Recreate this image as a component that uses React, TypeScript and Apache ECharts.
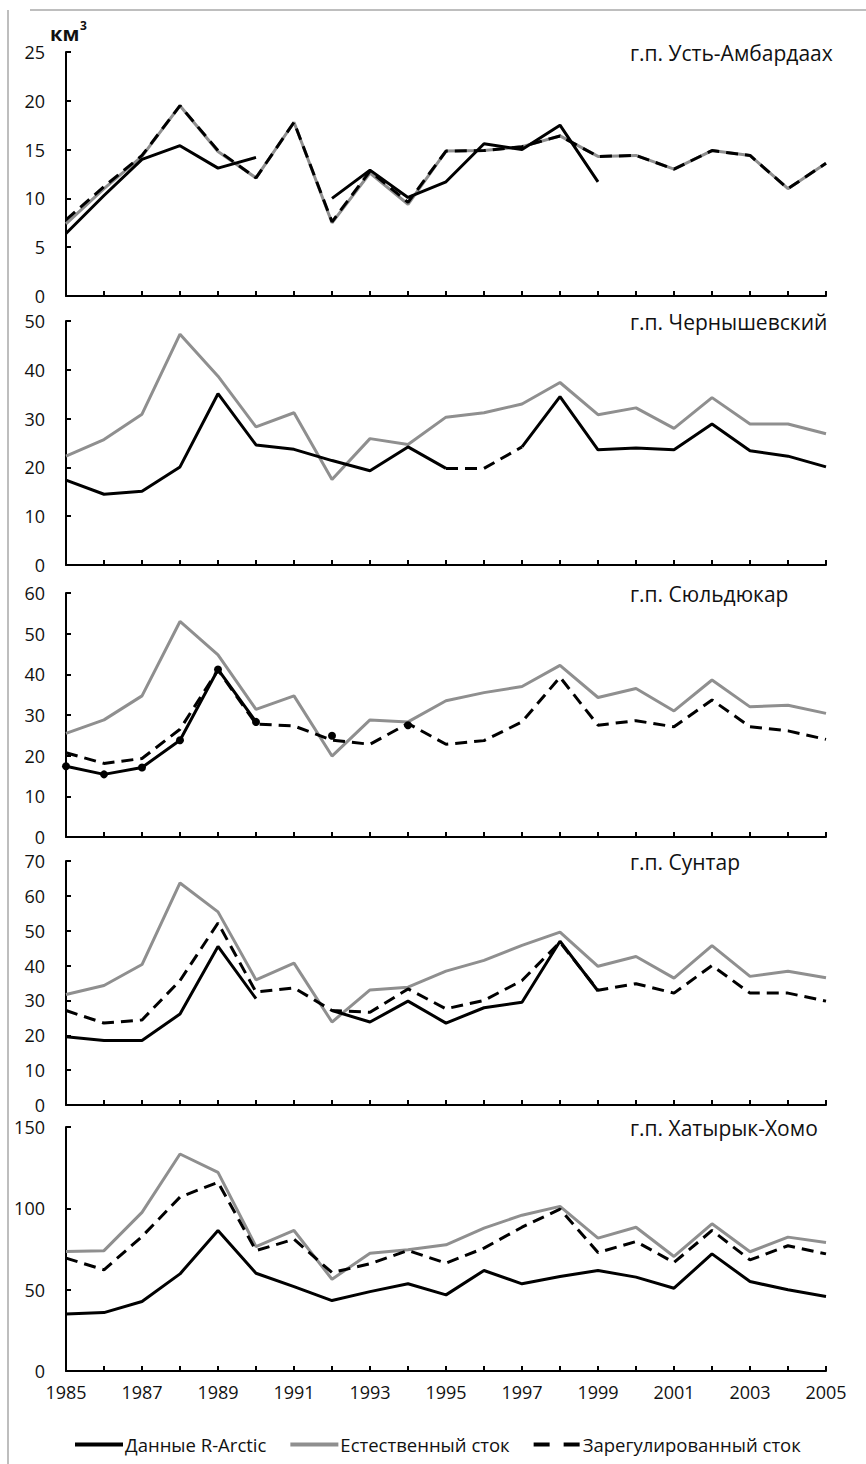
import React, { useEffect, useRef } from "react";
import * as echarts from "echarts";

const years = ["1985","1986","1987","1988","1989","1990","1991","1992","1993","1994","1995","1996","1997","1998","1999","2000","2001","2002","2003","2004","2005"];

const seriesNames = ["Данные R-Arctic", "Естественный сток", "Зарегулированный сток"];
const stationNames = ["г.п. Усть-Амбардаах", "г.п. Чернышевский", "г.п. Сюльдюкар", "г.п. Сунтар", "г.п. Хатырык-Хомо"];
const yMax = [25, 50, 60, 70, 150];
const yInterval = [5, 10, 10, 10, 50];
const unitLabel = "км";
const unitSup = "3";

// г.п. Усть-Амбардаах
const rArctic1 = [6.4, 10.3, 14.0, 15.4, 13.1, 14.2, null, 10.0, 12.9, 10.1, 11.7, 15.6, 15.0, 17.5, 11.7, null, null, null, null, null, null];
const natural1 = [7.4, 11.0, 14.3, 19.5, 14.8, 12.1, 17.8, 7.5, 12.6, 9.4, 14.85, 14.9, 15.3, 16.4, 14.3, 14.4, 13.0, 14.9, 14.4, 11.0, 13.6];
const regulated1 = [7.8, 11.2, 14.4, 19.5, 14.9, 12.1, 17.8, 7.6, 12.8, 9.6, 14.85, 14.9, 15.3, 16.4, 14.3, 14.4, 13.0, 14.9, 14.4, 11.0, 13.6];

// г.п. Чернышевский
const rArctic2 = [17.4, 14.5, 15.1, 20.1, 35.1, 24.6, 23.7, 21.4, 19.3, 24.2, 19.8, null, 24.2, 34.5, 23.6, 24.0, 23.6, 28.9, 23.4, 22.3, 20.1];
const natural2 = [22.3, 25.7, 30.9, 47.3, 38.7, 28.3, 31.2, 17.5, 25.9, 24.7, 30.3, 31.2, 33.0, 37.4, 30.8, 32.2, 28.0, 34.3, 28.9, 28.9, 26.9];
const regulated2 = [null, null, null, null, null, null, null, null, null, null, 19.8, 19.8, 24.2, null, null, null, null, null, null, null, null];

// г.п. Сюльдюкар
const rArctic3 = [17.4, 15.4, 17.1, 23.8, 41.2, 28.3, null, 24.9, null, 27.5, null, null, null, null, null, null, null, null, null, null, null];
const natural3 = [25.5, 28.8, 34.7, 53.0, 44.8, 31.4, 34.7, 19.9, 28.8, 28.3, 33.5, 35.5, 37.0, 42.2, 34.3, 36.5, 31.0, 38.6, 32.0, 32.4, 30.4];
const regulated3 = [20.7, 18.1, 19.3, 26.5, 41.1, 27.8, 27.3, 23.8, 22.8, 27.9, 22.8, 23.7, 28.3, 39.3, 27.5, 28.6, 27.1, 33.7, 27.1, 26.1, 24.0];

// г.п. Сунтар
const rArctic4 = [19.6, 18.5, 18.5, 26.1, 45.5, 30.5, null, 27.1, 23.8, 29.8, 23.5, 27.9, 29.5, 47.0, 32.7, null, null, null, null, null, null];
const natural4 = [31.7, 34.3, 40.3, 63.7, 55.4, 35.9, 40.7, 23.8, 33.0, 33.8, 38.4, 41.5, 45.8, 49.6, 39.8, 42.6, 36.4, 45.7, 36.9, 38.4, 36.5];
const regulated4 = [27.1, 23.5, 24.4, 35.7, 52.2, 32.4, 33.6, 27.1, 26.6, 33.3, 27.6, 30.0, 35.7, 46.7, 32.9, 34.8, 32.1, 40.0, 32.1, 32.1, 29.8];

// г.п. Хатырык-Хомо
const rArctic5 = [35.1, 35.9, 42.7, 59.7, 86.4, 60.1, 51.9, 43.3, 48.8, 53.6, 46.8, 61.8, 53.6, 58.1, 61.8, 57.7, 50.9, 72.0, 55.0, 49.9, 45.8];
const natural5 = [73.5, 74.0, 97.5, 133.4, 122.1, 76.5, 86.4, 56.4, 72.4, 74.5, 77.6, 87.8, 95.8, 101.2, 81.7, 88.4, 70.4, 90.5, 73.3, 82.3, 79.0];
const regulated5 = [69.4, 62.2, 82.7, 106.9, 116.0, 74.0, 81.0, 60.5, 65.9, 74.1, 66.3, 75.5, 88.4, 99.5, 72.8, 79.6, 66.7, 86.4, 68.3, 77.0, 72.0];

const rArcticAll = [rArctic1, rArctic2, rArctic3, rArctic4, rArctic5];
const naturalAll = [natural1, natural2, natural3, natural4, natural5];
const regulatedAll = [regulated1, regulated2, regulated3, regulated4, regulated5];

const FONT = "'Open Sans', 'Noto Sans', sans-serif";
const TEXT = "#111";
const GRAY = "#8f8f8f";
const gridTops = [52, 321, 593, 861, 1127];
const gridHeight = 244;
const gridLeft = 66;
const gridRight = 40;
const titleX = 630;

const SOLID_ICON = "path://M0,0H48V4H0Z";
const DASH_ICON = "path://M0,0H16V4H0Z M30,0H46V4H30Z";

export default function App() {
  const ref = useRef<HTMLDivElement>(null);
  useEffect(() => {
    if (!ref.current) return;
    const chart = echarts.init(ref.current, null, { renderer: "svg" });
    const grid: any[] = [];
    const xAxis: any[] = [];
    const yAxis: any[] = [];
    const series: any[] = [];
    const graphic: any[] = [
      { type: "line", shape: { x1: 30, y1: 10, x2: 866, y2: 10 }, style: { stroke: "#a8a8a8", lineWidth: 1.5 } },
      { type: "line", shape: { x1: 8, y1: 10, x2: 8, y2: 1464 }, style: { stroke: "#a8a8a8", lineWidth: 1.5 } },
      { type: "text", x: 50, y: 33, style: { text: unitLabel, font: `bold 20px ${FONT}`, fill: TEXT, textVerticalAlign: "middle" } },
      { type: "text", x: 80, y: 25, style: { text: unitSup, font: `bold 12px ${FONT}`, fill: TEXT, textVerticalAlign: "middle" } },
    ];
    for (let i = 0; i < 5; i++) {
      const last = i === 4;
      grid.push({ left: gridLeft, right: gridRight, top: gridTops[i], height: gridHeight, containLabel: false });
      xAxis.push({
        type: "category",
        gridIndex: i,
        data: years,
        boundaryGap: false,
        axisLine: { show: true, lineStyle: { color: "#000", width: 2 } },
        axisTick: { show: true, inside: true, length: 5, interval: 0, lineStyle: { color: "#000", width: 2 } },
        axisLabel: { show: last, interval: 1, margin: 12, fontFamily: FONT, fontSize: 18, color: TEXT },
        splitLine: { show: false },
      });
      yAxis.push({
        type: "value",
        gridIndex: i,
        min: 0,
        max: yMax[i],
        interval: yInterval[i],
        axisLine: { show: true, lineStyle: { color: "#000", width: 2 } },
        axisTick: { show: true, inside: true, length: 5, lineStyle: { color: "#000", width: 2 } },
        axisLabel: { margin: 21, fontFamily: FONT, fontSize: 18, color: TEXT },
        splitLine: { show: false },
      });
      series.push({
        name: seriesNames[1], type: "line", xAxisIndex: i, yAxisIndex: i, data: naturalAll[i],
        symbol: "none", lineStyle: { color: GRAY, width: 3 }, itemStyle: { color: GRAY },
      });
      series.push({
        name: seriesNames[0], type: "line", xAxisIndex: i, yAxisIndex: i, data: rArcticAll[i],
        symbol: i === 2 ? "circle" : "none", symbolSize: 8, showSymbol: i === 2, showAllSymbol: true,
        lineStyle: { color: "#000", width: 3 }, itemStyle: { color: "#000" },
      });
      series.push({
        name: seriesNames[2], type: "line", xAxisIndex: i, yAxisIndex: i, data: regulatedAll[i],
        symbol: "none", lineStyle: { color: "#000", width: 3, type: [12, 7] }, itemStyle: { color: "#000" },
      });
      graphic.push({
        type: "text", x: titleX, y: gridTops[i] + 1,
        style: { text: stationNames[i], font: `21px ${FONT}`, fill: TEXT, textVerticalAlign: "middle" },
      });
    }
    chart.setOption({
      animation: false,
      backgroundColor: "#fff",
      grid, xAxis, yAxis, series, graphic,
      legend: {
        data: [
          { name: seriesNames[0], icon: SOLID_ICON, itemStyle: { color: "#000", borderWidth: 0 } },
          { name: seriesNames[1], icon: SOLID_ICON, itemStyle: { color: GRAY, borderWidth: 0 } },
          { name: seriesNames[2], icon: DASH_ICON, itemStyle: { color: "#000", borderWidth: 0 } },
        ],
        left: 70,
        top: 1430,
        itemWidth: 48,
        itemHeight: 4,
        itemGap: 24,
        textStyle: { fontFamily: FONT, fontSize: 18.5, color: TEXT, padding: [0, 0, 0, -3] },
        selectedMode: false,
      },
    });
    return () => chart.dispose();
  }, []);
  return <div ref={ref} style={{ position: "fixed", left: 0, top: 0, width: 866, height: 1464 }} />;
}
